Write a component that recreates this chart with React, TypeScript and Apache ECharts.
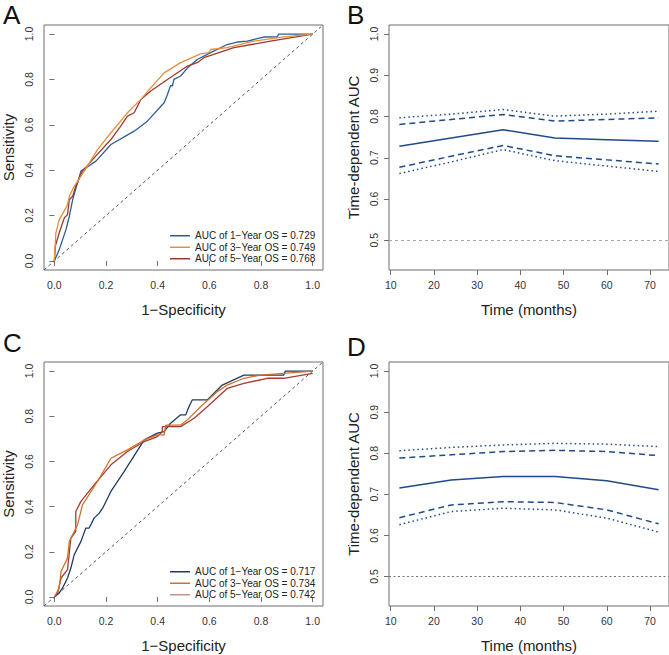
import React, { useEffect, useRef } from "react";
import * as echarts from "echarts";

// ---------- Data ----------
const rocTicks = [0, 0.2, 0.4, 0.6, 0.8, 1.0];
const aucTicksY = [0.5, 0.6, 0.7, 0.8, 0.9, 1.0];
const timeTicks = [10, 20, 30, 40, 50, 60, 70];
const months = [12, 24, 36, 48, 60, 72];

const legendA = ["AUC of 1\u2212Year OS = 0.729", "AUC of 3\u2212Year OS = 0.749", "AUC of 5\u2212Year OS = 0.768"];
const legendC = ["AUC of 1\u2212Year OS = 0.717", "AUC of 3\u2212Year OS = 0.734", "AUC of 5\u2212Year OS = 0.742"];

// Panel A ROC curves [FPR, TPR]
const rocA1 = [[0,0],[0.019,0.05],[0.045,0.138],[0.058,0.197],[0.071,0.27],[0.103,0.396],[0.122,0.41],[0.161,0.44],[0.219,0.513],[0.309,0.572],[0.36,0.616],[0.425,0.697],[0.438,0.734],[0.45,0.774],[0.457,0.771],[0.463,0.8],[0.489,0.815],[0.515,0.85],[0.553,0.888],[0.605,0.918],[0.669,0.954],[0.708,0.965],[0.747,0.969],[0.811,0.987],[0.862,0.988],[0.869,1.0],[1,1]];
const rocA3 = [[0,0],[0.006,0.124],[0.019,0.182],[0.045,0.234],[0.051,0.249],[0.058,0.285],[0.077,0.329],[0.116,0.396],[0.167,0.491],[0.219,0.565],[0.283,0.653],[0.335,0.712],[0.373,0.763],[0.425,0.829],[0.489,0.874],[0.566,0.913],[0.598,0.918],[0.605,0.932],[0.669,0.94],[0.772,0.969],[0.888,0.988],[1,1]];
const rocA5 = [[0,0],[0.004,0.065],[0.019,0.124],[0.039,0.19],[0.051,0.204],[0.058,0.27],[0.071,0.285],[0.083,0.329],[0.109,0.396],[0.154,0.454],[0.219,0.535],[0.257,0.594],[0.283,0.638],[0.309,0.653],[0.335,0.712],[0.373,0.749],[0.438,0.8],[0.515,0.859],[0.553,0.874],[0.579,0.896],[0.695,0.94],[0.837,0.969],[1,1]];

// Panel C ROC curves [FPR, TPR]
const rocC1 = [[0,0],[0.019,0.018],[0.032,0.04],[0.051,0.084],[0.064,0.128],[0.077,0.187],[0.103,0.246],[0.122,0.305],[0.135,0.305],[0.154,0.349],[0.174,0.371],[0.187,0.393],[0.219,0.467],[0.27,0.555],[0.348,0.695],[0.399,0.725],[0.425,0.732],[0.45,0.769],[0.489,0.806],[0.509,0.806],[0.521,0.842],[0.534,0.872],[0.592,0.872],[0.65,0.938],[0.734,0.982],[0.811,0.982],[0.888,0.982],[0.894,1.0],[1,1]];
const rocC3 = [[0,0],[0.019,0.04],[0.026,0.113],[0.051,0.172],[0.058,0.246],[0.077,0.29],[0.09,0.32],[0.109,0.408],[0.167,0.511],[0.219,0.614],[0.283,0.651],[0.348,0.695],[0.399,0.717],[0.425,0.717],[0.431,0.761],[0.489,0.761],[0.515,0.784],[0.566,0.842],[0.631,0.909],[0.669,0.938],[0.734,0.968],[0.798,0.982],[0.888,0.99],[1,1]];
const rocC5 = [[0,0],[0.013,0.018],[0.026,0.084],[0.051,0.121],[0.064,0.261],[0.083,0.29],[0.083,0.378],[0.103,0.423],[0.154,0.496],[0.219,0.585],[0.283,0.644],[0.348,0.688],[0.399,0.71],[0.418,0.732],[0.418,0.754],[0.489,0.754],[0.541,0.791],[0.592,0.842],[0.669,0.923],[0.734,0.945],[0.824,0.968],[0.888,0.968],[1,0.99]];

// Panel B time-dependent AUC
const aucB = [0.728, 0.748, 0.768, 0.748, 0.744, 0.740];
const ciB_upper95 = [0.781, 0.793, 0.805, 0.789, 0.793, 0.797];
const ciB_lower95 = [0.677, 0.704, 0.730, 0.705, 0.695, 0.685];
const ciB_upperOuter = [0.797, 0.806, 0.817, 0.801, 0.806, 0.813];
const ciB_lowerOuter = [0.662, 0.690, 0.720, 0.693, 0.680, 0.667];

// Panel D time-dependent AUC
const aucD = [0.715, 0.735, 0.743, 0.743, 0.733, 0.711];
const ciD_upper95 = [0.788, 0.796, 0.804, 0.807, 0.804, 0.794];
const ciD_lower95 = [0.643, 0.674, 0.682, 0.680, 0.662, 0.628];
const ciD_upperOuter = [0.806, 0.814, 0.820, 0.824, 0.822, 0.816];
const ciD_lowerOuter = [0.626, 0.658, 0.666, 0.662, 0.642, 0.608];

// ---------- Styling ----------
const FONT = "Liberation Sans, Arial, Helvetica, sans-serif";
const BOX = "#6e6e6e";
const TXT = "#333";
const colA = ["#2c5d95", "#e38f3e", "#a1392b"];
const colC = ["#1f3b63", "#d0712c", "#a83a30"];
const colCLegend5 = "#c49494";
const navy = "#1f4c86";

const grids = [
  { left: 43, top: 25, width: 280, height: 245 },
  { left: 389, top: 25, width: 280, height: 245 },
  { left: 43, top: 362, width: 280, height: 244 },
  { left: 389, top: 362, width: 280, height: 244 },
];

function xAxisCfg(i: number, kind: "roc" | "time", name: string) {
  const roc = kind === "roc";
  return {
    type: "value",
    gridIndex: i,
    min: roc ? -0.04 : 9.6,
    max: roc ? 1.04 : 74.4,
    name,
    nameLocation: "middle",
    nameGap: 32,
    nameTextStyle: { fontFamily: FONT, fontSize: 15, color: "#222" },
    axisLine: { show: false },
    splitLine: { show: false },
    axisTick: { show: true, length: 5, lineStyle: { color: BOX }, customValues: roc ? rocTicks : timeTicks },
    axisLabel: {
      show: true,
      margin: 9,
      fontFamily: FONT,
      fontSize: 10.5,
      color: TXT,
      customValues: roc ? rocTicks : timeTicks,
      formatter: (v: number) => (roc ? v.toFixed(1) : String(v)),
    },
  };
}

function yAxisCfg(i: number, kind: "roc" | "time", name: string) {
  const roc = kind === "roc";
  const ticks = roc ? rocTicks : aucTicksY;
  return {
    type: "value",
    gridIndex: i,
    min: roc ? -0.04 : 0.428,
    max: roc ? 1.04 : 1.022,
    name,
    nameLocation: "middle",
    nameRotate: 90,
    nameGap: 28,
    nameTextStyle: { fontFamily: FONT, fontSize: 15, color: "#222" },
    axisLine: { show: false },
    splitLine: { show: false },
    axisTick: { show: true, length: 5, lineStyle: { color: BOX }, customValues: ticks },
    axisLabel: {
      show: true,
      rotate: 90,
      margin: 10,
      fontFamily: FONT,
      fontSize: 10.5,
      color: TXT,
      customValues: ticks,
      formatter: (v: number) => v.toFixed(1),
    },
  };
}

function rocSeries(name: string, data: number[][], color: string, idx: number) {
  return {
    type: "line",
    name,
    xAxisIndex: idx,
    yAxisIndex: idx,
    data,
    symbol: "none",
    showSymbol: false,
    lineStyle: { color, width: 1.3 },
    itemStyle: { color },
    z: 3,
  };
}

function diag(idx: number) {
  return {
    type: "line",
    name: "diag" + idx,
    xAxisIndex: idx,
    yAxisIndex: idx,
    data: [[-0.04, -0.04], [1.04, 1.04]],
    symbol: "none",
    lineStyle: { color: "#555", width: 1, type: [3, 3] },
    z: 2,
  };
}

function timeSeries(name: string, vals: number[], idx: number, style: any, withRef?: any) {
  const s: any = {
    type: "line",
    name,
    xAxisIndex: idx,
    yAxisIndex: idx,
    data: months.map((m, k) => [m, vals[k]]),
    symbol: "none",
    showSymbol: false,
    lineStyle: { color: navy, width: 1.5, ...style },
    z: 3,
  };
  if (withRef) {
    s.markLine = {
      silent: true,
      symbol: "none",
      label: { show: false },
      data: [{ yAxis: 0.5 }],
      lineStyle: withRef,
    };
  }
  return s;
}

const dashed = { type: [6, 4], width: 1.5 };
const dotted = { type: [1.5, 3], width: 1.5 };

const legendBase = {
  orient: "vertical",
  left: 170,
  icon: "rect",
  itemWidth: 20,
  itemHeight: 1.5,
  itemGap: 0,
  selectedMode: false,
  padding: 0,
  textStyle: { fontFamily: FONT, fontSize: 10, color: "#222", lineHeight: 11.5 },
};

export default function App() {
  const ref = useRef<HTMLDivElement>(null);
  useEffect(() => {
    if (!ref.current) return;
    const chart = echarts.init(ref.current, undefined, { renderer: "svg" });
    const option: any = {
      animation: false,
      backgroundColor: "#ffffff",
      grid: grids.map((g) => ({ ...g, show: true, borderColor: BOX, borderWidth: 1, backgroundColor: "transparent" })),
      xAxis: [
        xAxisCfg(0, "roc", "1\u2212Specificity"),
        xAxisCfg(1, "time", "Time (months)"),
        xAxisCfg(2, "roc", "1\u2212Specificity"),
        xAxisCfg(3, "time", "Time (months)"),
      ],
      yAxis: [
        yAxisCfg(0, "roc", "Sensitivity"),
        yAxisCfg(1, "time", "Time-dependent AUC"),
        yAxisCfg(2, "roc", "Sensitivity"),
        yAxisCfg(3, "time", "Time-dependent AUC"),
      ],
      legend: [
        {
          ...legendBase,
          top: 230,
          data: legendA.map((n) => ({ name: n })),
        },
        {
          ...legendBase,
          top: 566,
          data: [
            { name: legendC[0] },
            { name: legendC[1] },
            { name: legendC[2], itemStyle: { color: colCLegend5 } },
          ],
        },
      ],
      graphic: [
        { type: "text", left: 3, top: 2, style: { text: "A", font: `26px ${FONT}`, fill: "#111" } },
        { type: "text", left: 347, top: 2, style: { text: "B", font: `26px ${FONT}`, fill: "#111" } },
        { type: "text", left: 3, top: 330, style: { text: "C", font: `26px ${FONT}`, fill: "#111" } },
        { type: "text", left: 347, top: 334, style: { text: "D", font: `26px ${FONT}`, fill: "#111" } },
      ],
      series: [
        diag(0),
        rocSeries(legendA[0], rocA1, colA[0], 0),
        rocSeries(legendA[2], rocA5, colA[2], 0),
        rocSeries(legendA[1], rocA3, colA[1], 0),
        timeSeries("B AUC", aucB, 1, {}, { color: "#a8a8a8", width: 1.2, type: [3, 3] }),
        timeSeries("B upper 95", ciB_upper95, 1, dashed),
        timeSeries("B lower 95", ciB_lower95, 1, dashed),
        timeSeries("B upper outer", ciB_upperOuter, 1, dotted),
        timeSeries("B lower outer", ciB_lowerOuter, 1, dotted),
        diag(2),
        rocSeries(legendC[0], rocC1, colC[0], 2),
        rocSeries(legendC[2], rocC5, colC[2], 2),
        rocSeries(legendC[1], rocC3, colC[1], 2),
        timeSeries("D AUC", aucD, 3, {}, { color: "#777", width: 1.2, type: [2, 2.5] }),
        timeSeries("D upper 95", ciD_upper95, 3, dashed),
        timeSeries("D lower 95", ciD_lower95, 3, dashed),
        timeSeries("D upper outer", ciD_upperOuter, 3, dotted),
        timeSeries("D lower outer", ciD_lowerOuter, 3, dotted),
      ],
    };
    chart.setOption(option);
    return () => chart.dispose();
  }, []);
  return (
    <div
      ref={ref}
      style={{ position: "absolute", left: 0, top: 0, width: 669, height: 655, background: "#fff" }}
    />
  );
}
